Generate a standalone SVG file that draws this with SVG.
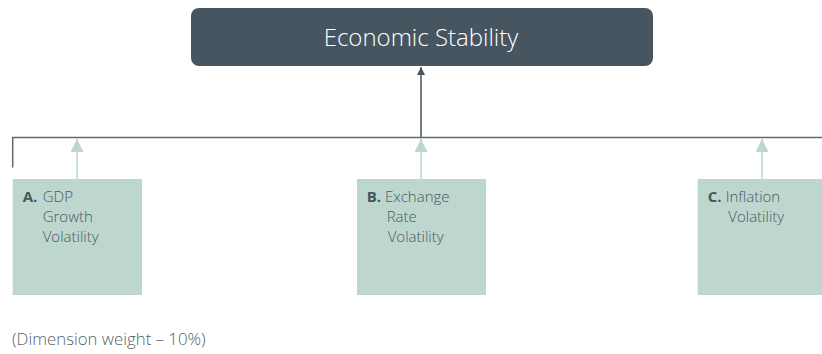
<svg xmlns="http://www.w3.org/2000/svg" width="822" height="354" viewBox="0 0 822 354">
  <defs>
    <style>
      .title { font-family: "Open Sans", "Noto Sans", sans-serif; font-weight: 300; font-size: 24px; fill: #ffffff; }
      .lbl { font-family: "Open Sans", "Noto Sans", sans-serif; font-weight: 300; font-size: 15px; fill: #4a5963; }
      .lbl .b { font-weight: 700; fill: #46555f; }
      .foot { font-family: "Open Sans", "Noto Sans", sans-serif; font-weight: 300; font-size: 16.8px; fill: #555f66; }
      .box { fill: #bdd6ce; }
      .dark { stroke: #46555f; stroke-width: 1.5; fill: none; }
      .bus { stroke: #5f6b73; stroke-width: 1.5; fill: none; }
      .light { stroke: #bdd6ce; stroke-width: 1.5; fill: none; }
    </style>
    <marker id="ahDark" viewBox="0 0 10 10" refX="10" refY="5" markerWidth="8" markerHeight="8" markerUnits="userSpaceOnUse" orient="auto">
      <path d="M0,0 L10,5 L0,10 z" fill="#46555f"/>
    </marker>
    <marker id="ahLight" viewBox="0 0 10 10" refX="10" refY="5" markerWidth="13" markerHeight="13" markerUnits="userSpaceOnUse" orient="auto">
      <path d="M0,0 L10,5 L0,10 z" fill="#bdd6ce"/>
    </marker>
  </defs>

  <g id="connectors">
    <line class="dark" x1="421" y1="138" x2="421" y2="67" marker-end="url(#ahDark)"/>
    <polyline class="bus" points="12.7,167.5 12.7,137.5 822,137.5"/>
    <line class="light" x1="77" y1="179" x2="77" y2="139" marker-end="url(#ahLight)"/>
    <line class="light" x1="421" y1="179" x2="421" y2="139" marker-end="url(#ahLight)"/>
    <line class="light" x1="762" y1="179" x2="762" y2="139" marker-end="url(#ahLight)"/>
  </g>

  <g id="economic-stability">
    <rect x="191" y="8" width="462" height="58" rx="8" fill="#46555f"/>
    <text class="title" x="421" y="46" text-anchor="middle">Economic Stability</text>
  </g>

  <g id="node-a">
    <rect class="box" x="12.7" y="179" width="129.3" height="116"/>
    <text class="lbl"><tspan class="b" x="22.7" y="202">A.</tspan><tspan x="42.7" y="202">GDP</tspan><tspan x="42.7" y="222">Growth</tspan><tspan x="42.7" y="242">Volatility</tspan></text>
  </g>

  <g id="node-b">
    <rect class="box" x="357" y="179" width="129" height="116"/>
    <text class="lbl"><tspan class="b" x="366.7" y="202">B.</tspan><tspan x="385" y="202">Exchange</tspan><tspan x="386.7" y="222">Rate</tspan><tspan x="387.7" y="242">Volatility</tspan></text>
  </g>

  <g id="node-c">
    <rect class="box" x="697.7" y="179" width="124.3" height="116"/>
    <text class="lbl"><tspan class="b" x="707.7" y="202">C.</tspan><tspan x="725.7" y="202">Inflation</tspan><tspan x="728.3" y="222">Volatility</tspan></text>
  </g>

  <text class="foot" x="12" y="345">(Dimension weight – 10%)</text>
</svg>
